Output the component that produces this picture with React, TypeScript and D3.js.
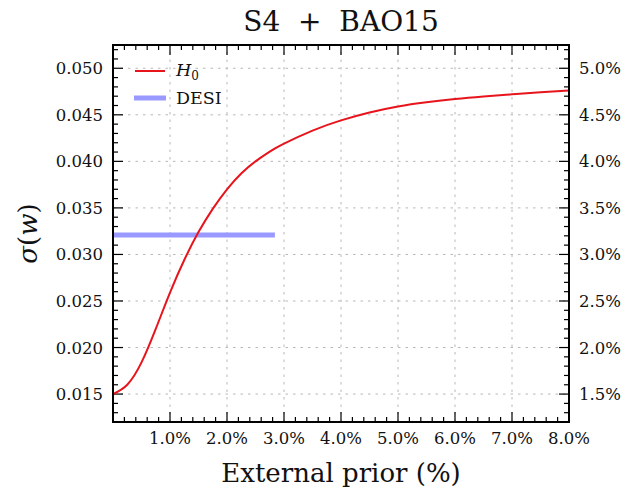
import React from 'react';
import * as d3 from 'd3';

// H0 prior curve
const priorPct = [0, 0.25, 0.5, 0.75, 1.0, 1.25, 1.5, 1.75, 2.0, 2.25, 2.5, 2.75, 3.0, 3.5, 4.0, 4.5, 5.0, 5.5, 6.0, 6.5, 7.0, 7.5, 8.0];
const sigmaW = [
  0.015, 0.016, 0.0184, 0.022, 0.0259, 0.0294, 0.0324, 0.0349, 0.037, 0.0387, 0.04,
  0.04105, 0.0419, 0.0433, 0.0444, 0.04525, 0.0459, 0.04635, 0.0467, 0.04697, 0.0472, 0.04742, 0.0476,
];

// DESI reference level
const desiRange = [0, 2.84];
const desiSigma = 0.0321;

const xTicks = [1, 2, 3, 4, 5, 6, 7, 8];
const yTicks = [0.015, 0.02, 0.025, 0.03, 0.035, 0.04, 0.045, 0.05];

const W = 636;
const H = 492;
const margin = { top: 45, right: 67, bottom: 70, left: 113 };
const FONT = '"DejaVu Serif", "Liberation Serif", serif';

export default function App() {
  const x = d3.scaleLinear().domain([0, 8]).range([margin.left, W - margin.right]);
  const y = d3.scaleLinear().domain([0.012, 0.0525]).range([H - margin.bottom, margin.top]);

  const x0 = x.range()[0], x1 = x.range()[1];
  const y0 = y.range()[0], y1 = y.range()[1];

  const line = d3
    .line<number>()
    .x((_, i) => x(priorPct[i]))
    .y((d) => y(d))
    .curve(d3.curveNatural);

  const xMinor = d3.range(0, 8.001, 0.2).filter((v) => Math.abs(v - Math.round(v)) > 1e-6);
  const yMinor = d3.range(0.012, 0.0526, 0.001).filter((v) => Math.abs(v * 200 - Math.round(v * 200)) > 1e-6);

  const major = 10;
  const minor = 5;

  return (
    <svg width={W} height={H} style={{ position: 'absolute', left: 0, top: 0, background: 'white' }}>
      <defs>
        <clipPath id="plot">
          <rect x={x0} y={y1} width={x1 - x0} height={y0 - y1} />
        </clipPath>
      </defs>

      {/* grid */}
      <g stroke="#b8b8b8" strokeWidth={1} strokeDasharray="2.5,5">
        {xTicks.map((t) => (
          <line key={'gx' + t} x1={x(t)} x2={x(t)} y1={y0} y2={y1} />
        ))}
        {yTicks.map((t) => (
          <line key={'gy' + t} x1={x0} x2={x1} y1={y(t)} y2={y(t)} />
        ))}
      </g>

      {/* ticks, pointing inward on all four sides */}
      <g stroke="black" strokeWidth={1.2}>
        {xTicks.map((t) => (
          <g key={'tx' + t}>
            <line x1={x(t)} x2={x(t)} y1={y0} y2={y0 - major} />
            <line x1={x(t)} x2={x(t)} y1={y1} y2={y1 + major} />
          </g>
        ))}
        {xMinor.map((t) => (
          <g key={'mx' + t}>
            <line x1={x(t)} x2={x(t)} y1={y0} y2={y0 - minor} />
            <line x1={x(t)} x2={x(t)} y1={y1} y2={y1 + minor} />
          </g>
        ))}
        {yTicks.map((t) => (
          <g key={'ty' + t}>
            <line x1={x0} x2={x0 + major} y1={y(t)} y2={y(t)} />
            <line x1={x1} x2={x1 - major} y1={y(t)} y2={y(t)} />
          </g>
        ))}
        {yMinor.map((t) => (
          <g key={'my' + t}>
            <line x1={x0} x2={x0 + minor} y1={y(t)} y2={y(t)} />
            <line x1={x1} x2={x1 - minor} y1={y(t)} y2={y(t)} />
          </g>
        ))}
      </g>

      {/* data */}
      <g clipPath="url(#plot)">
        <line
          x1={x(desiRange[0])}
          x2={x(desiRange[1])}
          y1={y(desiSigma)}
          y2={y(desiSigma)}
          stroke="#9999ff"
          strokeWidth={5}
        />
        <path d={line(sigmaW) || ''} fill="none" stroke="#e8141c" strokeWidth={2} />
      </g>

      {/* frame */}
      <rect x={x0} y={y1} width={x1 - x0} height={y0 - y1} fill="none" stroke="black" strokeWidth={2} />

      {/* tick labels */}
      <g fontFamily={FONT} fontSize={16.5} fill="#111">
        {xTicks.map((t) => (
          <text key={'lx' + t} x={x(t)} y={y0 + 22} textAnchor="middle">
            {t.toFixed(1)}%
          </text>
        ))}
        {yTicks.map((t) => (
          <text key={'ly' + t} x={x0 - 10} y={y(t) + 6} textAnchor="end">
            {t.toFixed(3)}
          </text>
        ))}
        {yTicks.map((t) => (
          <text key={'lr' + t} x={x1 + 10} y={y(t) + 6} textAnchor="start">
            {(t * 100).toFixed(1)}%
          </text>
        ))}
      </g>

      {/* legend */}
      <g fontFamily={FONT} fontSize={17.5} fill="#111">
        <line x1={135} x2={165} y1={71} y2={71} stroke="#e8141c" strokeWidth={2} />
        <text x={176} y={76}>
          <tspan fontStyle="italic">H</tspan>
          <tspan fontSize={12} dy={4}>0</tspan>
        </text>
        <line x1={134} x2={166} y1={98} y2={98} stroke="#9999ff" strokeWidth={5} />
        <text x={176} y={104}>DESI</text>
      </g>

      {/* titles */}
      <text x={(x0 + x1) / 2} y={31} textAnchor="middle" fontFamily={FONT} fontSize={28} fill="#111">
        S4 {'\u00a0'}+{'\u00a0'} BAO15
      </text>
      <text x={(x0 + x1) / 2} y={482} textAnchor="middle" fontFamily={FONT} fontSize={26} fill="#111">
        External prior (%)
      </text>
      <text
        transform={`translate(37, ${(y0 + y1) / 2}) rotate(-90)`}
        textAnchor="middle"
        fontFamily={FONT}
        fontSize={26}
        fill="#111"
      >
        <tspan fontStyle="italic">σ</tspan>(<tspan fontStyle="italic">w</tspan>)
      </text>
    </svg>
  );
}
